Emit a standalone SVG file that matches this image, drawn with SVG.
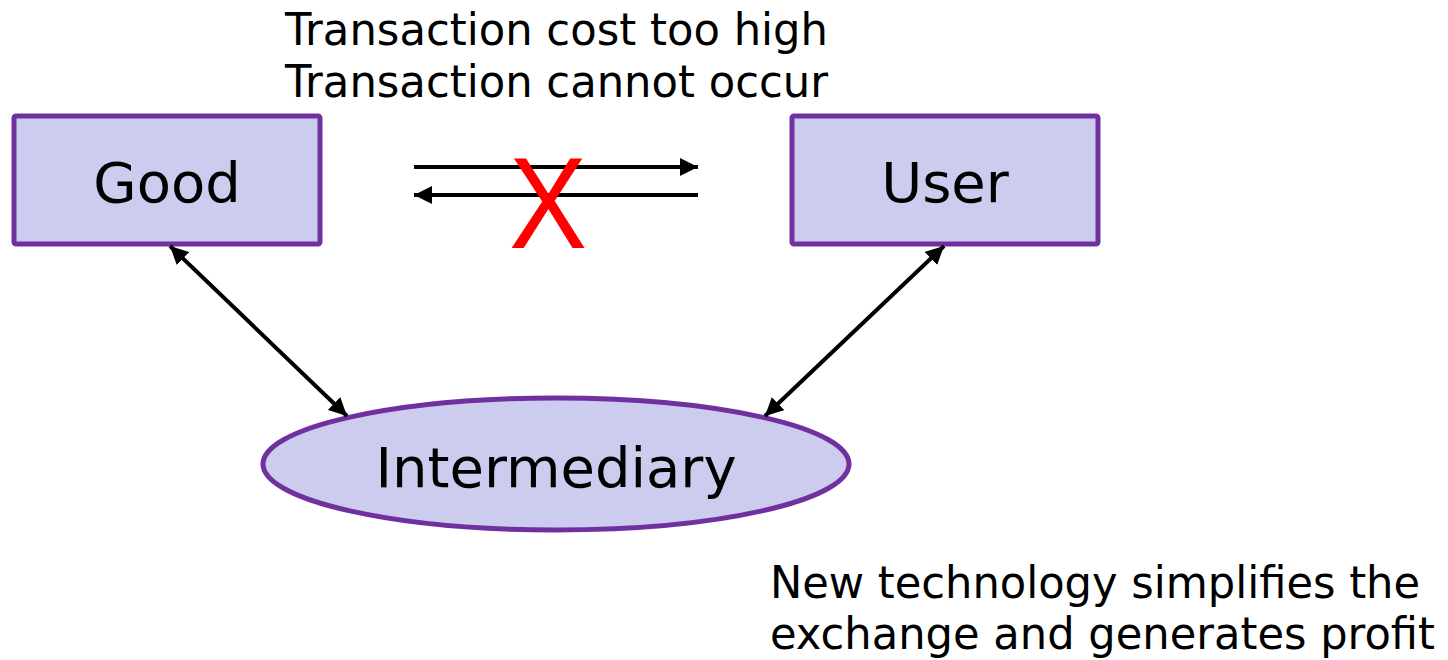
<svg xmlns="http://www.w3.org/2000/svg" width="1448" height="660" viewBox="0 0 1448 660">
  <defs>
    <marker id="head" viewBox="0 0 18 18" refX="18" refY="9" markerWidth="18" markerHeight="18" markerUnits="userSpaceOnUse" orient="auto-start-reverse">
      <path d="M0,0 L18,9 L0,18 z" fill="#000"/>
    </marker>
    <style>
      .node { fill: #CCCCEE; stroke: #7030A0; stroke-width: 5; }
      .label { font-family: "DejaVu Sans", Verdana, sans-serif; fill: #000; }
      .big { font-size: 56px; text-anchor: middle; }
      .note { font-size: 44px; }
      .link { stroke: #000; stroke-width: 4; fill: none; }
    </style>
  </defs>
  <rect width="1448" height="660" fill="#fff"/>

  <g id="good">
    <rect class="node" x="14" y="116" width="306" height="128" rx="2"/>
    <text class="label big" x="167" y="202">Good</text>
  </g>

  <g id="user">
    <rect class="node" x="792" y="116" width="306" height="128" rx="2"/>
    <text class="label big" x="945" y="202">User</text>
  </g>

  <g id="intermediary">
    <ellipse class="node" cx="556" cy="464" rx="293" ry="66"/>
    <text class="label big" x="556" y="487">Intermediary</text>
  </g>

  <g id="connectors">
    <line class="link" x1="414" y1="167" x2="698" y2="167" marker-end="url(#head)"/>
    <line class="link" x1="698" y1="195" x2="414" y2="195" marker-end="url(#head)"/>
    <line class="link" x1="170" y1="246" x2="347" y2="416" marker-start="url(#head)" marker-end="url(#head)"/>
    <line class="link" x1="944" y1="246" x2="765" y2="416" marker-start="url(#head)" marker-end="url(#head)"/>
  </g>

  <!-- blocked direct exchange -->
  <text x="0" y="0" transform="translate(548,248) scale(0.9,1)" text-anchor="middle" font-family="Liberation Sans, Arial, sans-serif" font-size="130" fill="#FF0000">X</text>

  <g id="notes">
    <text class="label note" x="285" y="45" textLength="543" lengthAdjust="spacingAndGlyphs">Transaction cost too high</text>
    <text class="label note" x="285" y="97" textLength="543" lengthAdjust="spacingAndGlyphs">Transaction cannot occur</text>
    <text class="label note" x="770" y="598" textLength="650" lengthAdjust="spacingAndGlyphs">New technology simplifies the</text>
    <text class="label note" x="770" y="649" textLength="665" lengthAdjust="spacingAndGlyphs">exchange and generates profit</text>
  </g>
</svg>
